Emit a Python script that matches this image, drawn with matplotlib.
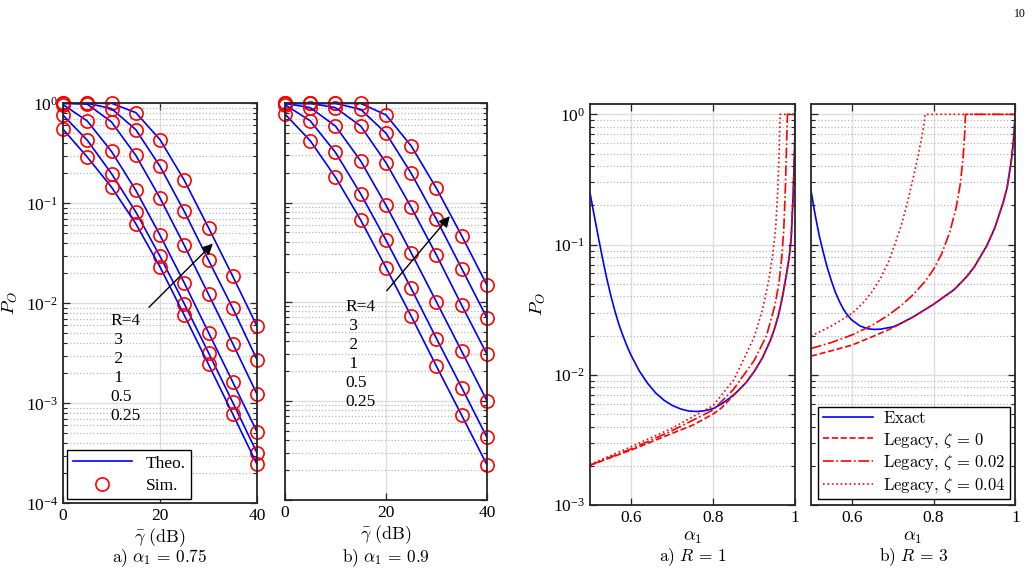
import numpy as np
import matplotlib
matplotlib.use("Agg")
import matplotlib.pyplot as plt
from matplotlib.lines import Line2D
from matplotlib.ticker import LogLocator, NullFormatter

plt.rcParams['font.family'] = ['Liberation Serif', 'DejaVu Serif']
plt.rcParams['mathtext.fontset'] = 'cm'

# ---- data: outage vs average SNR (left pair) ----
gamma_db = [0, 5, 10, 15, 20, 25, 30, 35, 40]
rates = ['R=4', ' 3', ' 2', ' 1', '0.5', '0.25']

# rows: R = 4, 3, 2, 1, 0.5, 0.25
po_a075 = [
    [1.0, 1.0, 1.0, 0.807, 0.433, 0.170, 0.057, 0.0186, 0.0059],
    [1.0, 1.0, 0.885, 0.545, 0.234, 0.083, 0.027, 0.0089, 0.00273],
    [1.0, 0.98, 0.65, 0.302, 0.113, 0.038, 0.0123, 0.00395, 0.00123],
    [0.97, 0.665, 0.33, 0.135, 0.0479, 0.016, 0.0051, 0.00163, 0.000517],
    [0.76, 0.427, 0.198, 0.082, 0.0295, 0.0099, 0.0032, 0.00102, 0.000319],
    [0.55, 0.29, 0.145, 0.0626, 0.0231, 0.0076, 0.00245, 0.00078, 0.000245],
]
po_a09 = [
    [1.0, 1.0, 1.0, 1.0, 0.765, 0.372, 0.139, 0.0462, 0.0147],
    [1.0, 1.0, 1.0, 0.87, 0.50, 0.197, 0.0676, 0.0216, 0.00686],
    [1.0, 1.0, 0.905, 0.59, 0.252, 0.0894, 0.0295, 0.0092, 0.00295],
    [1.0, 0.905, 0.59, 0.262, 0.094, 0.0311, 0.00995, 0.00316, 0.001],
    [0.97, 0.667, 0.32, 0.122, 0.0418, 0.0136, 0.00425, 0.00136, 0.000427],
    [0.78, 0.42, 0.18, 0.0665, 0.0221, 0.00714, 0.00223, 0.000714, 0.000226],
]

# ---- data: outage vs alpha_1, R = 1 ----
r1_exact_a = [0.50, 0.51, 0.52, 0.53, 0.54, 0.55, 0.56, 0.57, 0.58, 0.59, 0.60, 0.62, 0.64,
              0.66, 0.68, 0.70, 0.72, 0.74, 0.76, 0.78, 0.80, 0.82, 0.84, 0.86, 0.88, 0.90,
              0.92, 0.94, 0.95, 0.96, 0.97, 0.98, 0.985, 0.99, 0.995, 0.998, 1.0]
r1_exact_p = [0.249, 0.168, 0.115, 0.0794, 0.0562, 0.0412, 0.0313, 0.0245, 0.0200, 0.0166,
              0.0141, 0.0107, 0.00861, 0.00724, 0.00638, 0.00582, 0.00547, 0.00527, 0.00522,
              0.00530, 0.00550, 0.00596, 0.00661, 0.00750, 0.00871, 0.0106, 0.0135, 0.0186,
              0.0229, 0.0295, 0.0417, 0.0631, 0.0794, 0.112, 0.251, 0.501, 1.0]
r1_z0_a = [0.5, 0.6, 0.7, 0.75, 0.8, 0.82, 0.84, 0.86, 0.88, 0.90, 0.92, 0.94, 0.95, 0.96,
           0.97, 0.98, 0.985, 0.99, 0.995, 0.998, 1.0]
r1_z0_p = [0.00202, 0.00264, 0.00355, 0.0041, 0.0050, 0.00556, 0.00646, 0.00750, 0.00871,
           0.0106, 0.0135, 0.0186, 0.0229, 0.0295, 0.0417, 0.0631, 0.0794, 0.112, 0.251,
           0.501, 1.0]
r1_z2_a = [0.5, 0.6, 0.7, 0.8, 0.85, 0.9, 0.93, 0.95, 0.96, 0.967, 0.972, 0.976, 0.979,
           0.981, 1.0]
r1_z2_p = [0.00202, 0.00269, 0.00372, 0.00537, 0.00776, 0.0129, 0.0200, 0.0339, 0.0501,
           0.0794, 0.132, 0.282, 0.631, 1.0, 1.0]
r1_z4_a = [0.5, 0.6, 0.7, 0.8, 0.85, 0.9, 0.92, 0.935, 0.945, 0.952, 0.957, 0.96, 0.962,
           0.963, 1.0]
r1_z4_p = [0.00205, 0.00280, 0.00389, 0.00581, 0.00912, 0.0195, 0.0316, 0.0525, 0.0832,
           0.132, 0.251, 0.447, 0.759, 1.0, 1.0]

# ---- data: outage vs alpha_1, R = 3 ----
r3_exact_a = [0.50, 0.51, 0.52, 0.53, 0.54, 0.55, 0.56, 0.57, 0.58, 0.59, 0.60, 0.62, 0.64,
              0.655, 0.67, 0.70, 0.72, 0.75, 0.80, 0.85, 0.88, 0.90, 0.93, 0.95, 0.97, 0.98,
              0.99, 0.995, 1.0]
r3_exact_p = [0.260, 0.170, 0.1175, 0.0871, 0.0661, 0.0525, 0.0427, 0.0363, 0.0316, 0.0285,
              0.0263, 0.0237, 0.0225, 0.0223, 0.0224, 0.0233, 0.0248, 0.0278, 0.0348, 0.0450,
              0.0562, 0.0676, 0.0977, 0.135, 0.209, 0.275, 0.437, 0.603, 1.0]
r3_z0_a = [0.5, 0.55, 0.6, 0.65, 0.70, 0.72, 0.75, 0.80, 0.85, 0.88, 0.90, 0.93, 0.95, 0.97,
           0.98, 0.99, 0.995, 1.0]
r3_z0_p = [0.0139, 0.0153, 0.0169, 0.0196, 0.0229, 0.0248, 0.0278, 0.0348, 0.0450, 0.0562,
           0.0676, 0.0977, 0.135, 0.209, 0.275, 0.437, 0.603, 1.0]
r3_z2_a = [0.5, 0.55, 0.6, 0.65, 0.69, 0.72, 0.75, 0.78, 0.80, 0.82, 0.84, 0.855, 0.865,
           0.872, 0.877, 0.878, 1.0]
r3_z2_p = [0.0159, 0.0177, 0.0202, 0.0240, 0.0288, 0.0339, 0.0412, 0.0525, 0.0646, 0.0851,
           0.126, 0.191, 0.288, 0.457, 0.794, 1.0, 1.0]
r3_z4_a = [0.5, 0.55, 0.6, 0.63, 0.65, 0.67, 0.69, 0.705, 0.72, 0.735, 0.75, 0.762, 0.772,
           0.778, 0.779, 1.0]
r3_z4_p = [0.0198, 0.0237, 0.0295, 0.0363, 0.0437, 0.0550, 0.0741, 0.100, 0.138, 0.204,
           0.324, 0.479, 0.692, 0.912, 1.0, 1.0]

BLUE = '#0000ff'
RED = '#ff0000'
FS = 12.5


def style(ax, ylim):
    ax.set_yscale('log')
    ax.set_ylim(*ylim)
    ax.yaxis.set_minor_locator(LogLocator(base=10, subs=np.arange(2, 10)))
    ax.yaxis.set_minor_formatter(NullFormatter())
    ax.tick_params(which='both', direction='in', top=True, right=True, labelsize=FS,
                   color='#262626')
    ax.tick_params(which='major', length=5, width=0.9)
    ax.tick_params(which='minor', length=3, width=0.8)
    ax.grid(True, which='major', color='#dedede', lw=1.0)
    ax.grid(True, which='minor', axis='y', color='#b8b8b8', ls=':', lw=0.9)
    ax.set_axisbelow(True)
    for s in ax.spines.values():
        s.set_color('#262626')
        s.set_linewidth(1.3)


fig = plt.figure(figsize=(10.33, 5.69), dpi=100)
ax1 = fig.add_axes([0.0610, 0.1155, 0.1878, 0.703])
ax2 = fig.add_axes([0.2759, 0.1213, 0.1955, 0.697])
ax3 = fig.add_axes([0.5712, 0.1125, 0.1987, 0.7047])
ax4 = fig.add_axes([0.7851, 0.1125, 0.1978, 0.7047])

for ax, data in ((ax1, po_a075), (ax2, po_a09)):
    style(ax, (1e-4, 1))
    for row in data:
        ax.plot(gamma_db, row, color=BLUE, lw=1.2)
        ax.plot(gamma_db, row, 'o', ms=9.5, mfc='none', mec=RED, mew=1.2, clip_on=False)
    ax.set_xlim(0, 40)
    ax.set_xticks([0, 20, 40])
    ax.set_xlabel(r'$\bar{\gamma}\ \mathrm{(dB)}$', fontsize=FS + 0.5, labelpad=1.5)

ax1.set_ylabel(r'$P_O$', fontsize=FS + 1)
ax2.tick_params(labelleft=False)

ax1.annotate('', xy=(31.3, 10**-1.384), xytext=(17.3, 10**-2.06),
             arrowprops=dict(arrowstyle='-|>', color='k', lw=1.0, mutation_scale=16))
ax1.text(9.7, 10**-2.657, '\n'.join(rates), fontsize=FS, ha='left', va='center',
         linespacing=1.25)
ax2.annotate('', xy=(33.0, 10**-1.116), xytext=(19.8, 10**-1.911),
             arrowprops=dict(arrowstyle='-|>', color='k', lw=1.0, mutation_scale=16))
ax2.text(11.9, 10**-2.529, '\n'.join(rates), fontsize=FS, ha='left', va='center',
         linespacing=1.25)

h1 = [Line2D([], [], color=BLUE, lw=1.2),
      Line2D([], [], ls='none', marker='o', ms=9.5, mfc='none', mec=RED, mew=1.2)]
leg = ax1.legend(h1, ['Theo.', 'Sim.'], loc='lower left', fontsize=FS, handlelength=3.4,
                 fancybox=False, framealpha=1, edgecolor='k', borderaxespad=0.25,
                 borderpad=0.3, labelspacing=0.35)
leg.get_frame().set_linewidth(1.0)

for ax, curves in ((ax3, [(r1_exact_a, r1_exact_p), (r1_z0_a, r1_z0_p),
                          (r1_z2_a, r1_z2_p), (r1_z4_a, r1_z4_p)]),
                   (ax4, [(r3_exact_a, r3_exact_p), (r3_z0_a, r3_z0_p),
                          (r3_z2_a, r3_z2_p), (r3_z4_a, r3_z4_p)])):
    style(ax, (1e-3, 1.2))
    ax.plot(*curves[0], color=BLUE, lw=1.2, label=r'$\mathrm{Exact}$')
    ax.plot(*curves[1], color=RED, lw=1.2, ls='--',
            label=r'$\mathrm{Legacy,}\,\zeta\,=\,0$')
    ax.plot(*curves[2], color=RED, lw=1.2, ls='-.',
            label=r'$\mathrm{Legacy,}\,\zeta\,=\,0.02$')
    ax.plot(*curves[3], color=RED, lw=1.2, ls=':',
            label=r'$\mathrm{Legacy,}\,\zeta\,=\,0.04$')
    ax.set_xlim(0.5, 1)
    ax.set_xticks([0.6, 0.8, 1.0])
    ax.set_xticklabels(['0.6', '0.8', '1'])
    ax.set_xlabel(r'$\alpha_1$', fontsize=FS + 1, labelpad=2)

ax3.set_ylabel(r'$P_O$', fontsize=FS + 1)
ax4.tick_params(labelleft=False)
leg4 = ax4.legend(loc='lower right', fontsize=12, handlelength=3.0, handletextpad=0.6,
                  fancybox=False, framealpha=1, edgecolor='k', borderaxespad=0.35,
                  borderpad=0.25, labelspacing=0.22)
leg4.get_frame().set_linewidth(1.0)

captions = [r'$\mathrm{a)}\ \alpha_1\,=\,0.75$', r'$\mathrm{b)}\ \alpha_1\,=\,0.9$',
            r'$\mathrm{a)}\ R\,=\,1$', r'$\mathrm{b)}\ R\,=\,3$']
cap_y = [-0.138, -0.146, -0.13, -0.13]
for ax, cap, cy in zip((ax1, ax2, ax3, ax4), captions, cap_y):
    ax.text(0.5, cy, cap, transform=ax.transAxes, ha='center', va='center',
            fontsize=FS)

fig.text(0.987, 0.976, '10', fontsize=8.5, ha='center', va='center')

fig.savefig('out.png', dpi=100)
